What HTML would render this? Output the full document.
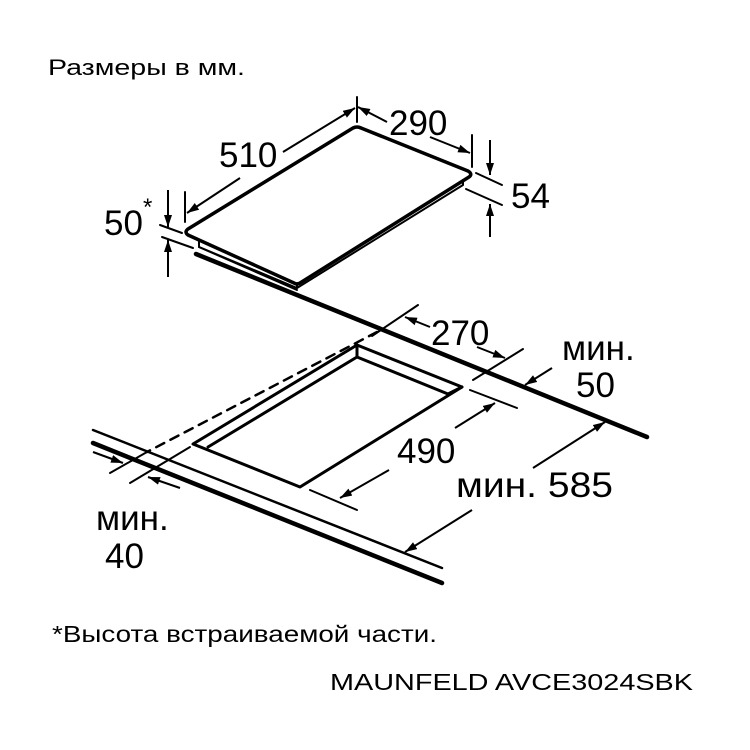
<!DOCTYPE html>
<html><head><meta charset="utf-8"><style>
html,body{margin:0;padding:0;background:#fff;}
svg{display:block;}
text{font-family:"Liberation Sans",sans-serif;fill:#000;}
</style></head><body>
<svg width="750" height="750" viewBox="0 0 750 750" xmlns="http://www.w3.org/2000/svg">
<defs>
<marker id="a" viewBox="0 0 12 8" refX="12" refY="4" markerWidth="12" markerHeight="8" markerUnits="userSpaceOnUse" orient="auto">
<path d="M0,0 L12,4 L0,8 z" fill="#000"/></marker>
</defs>
<g stroke="#000" fill="none" stroke-linecap="round" stroke-linejoin="round">
<path d="M188,229 L353,128 Q357,126 361,128 L468,171 Q473,174 469,177 L300,283 Q297,285 294,283 L188,235 Q184,232 188,229 z" stroke-width="3.5"/>
<path d="M199,241 L199,247 L297,288 L297,283" stroke-width="2"/>
<path d="M297,288 L463,185 L463,180" stroke-width="2"/>
<path d="M199,247 L297,290" stroke-width="2"/>
<path d="M196,254 L647,437" stroke-width="4.5"/>
<path d="M93,430 L442,568" stroke-width="2.5"/>
<path d="M93,443 L442,583" stroke-width="4.5"/>
<path d="M357,345 L462,387 L300,487 L193,444 z" stroke-width="3"/>
<path d="M357,345 L357,357 L208,447 M357,357 L448,394 L462,387" stroke-width="3"/>
<path d="M377,332 L147,452" stroke-width="2.5" stroke-dasharray="9,7"/>
<path d="M147,452 L110,473" stroke-width="2"/>
<path d="M190,447 L130,483" stroke-width="2"/>
<path d="M357,97 L357,122 M472,135 L472,167 M185,192 L185,222" stroke-width="2"/>
<path d="M476,173 L502,185 M466,189 L502,205" stroke-width="2"/>
<path d="M160,225 L182,233 M162,237 L193,248" stroke-width="2"/>
<path d="M418,305 L372,336 M523,349 L473,380" stroke-width="2"/>
<path d="M470,390 L517,408 M310,490 L357,510" stroke-width="2"/>
</g>
<g stroke="#000" stroke-width="2" fill="none">
<line x1="283" y1="152" x2="355" y2="108" marker-end="url(#a)"/>
<line x1="240" y1="178" x2="187" y2="213" marker-end="url(#a)"/>
<line x1="387" y1="122" x2="358" y2="107" marker-end="url(#a)"/>
<line x1="430" y1="137" x2="470" y2="153" marker-end="url(#a)"/>
<line x1="490" y1="140" x2="490" y2="175" marker-end="url(#a)"/>
<line x1="490" y1="237" x2="490" y2="204" marker-end="url(#a)"/>
<line x1="168" y1="190" x2="168" y2="227" marker-end="url(#a)"/>
<line x1="168" y1="277" x2="168" y2="240" marker-end="url(#a)"/>
<line x1="430" y1="327" x2="405" y2="317" marker-end="url(#a)"/>
<line x1="477" y1="347" x2="505" y2="358" marker-end="url(#a)"/>
<line x1="552" y1="368" x2="525" y2="385" marker-end="url(#a)"/>
<line x1="455" y1="428" x2="495" y2="403" marker-end="url(#a)"/>
<line x1="389" y1="470" x2="340" y2="498" marker-end="url(#a)"/>
<line x1="533" y1="468" x2="605" y2="422" marker-end="url(#a)"/>
<line x1="472" y1="510" x2="405" y2="552" marker-end="url(#a)"/>
<line x1="93" y1="452" x2="123" y2="463" marker-end="url(#a)"/>
<line x1="180" y1="488" x2="148" y2="477" marker-end="url(#a)"/>
</g>
<text x="48" y="75" font-size="22" textLength="197" lengthAdjust="spacingAndGlyphs">Размеры в мм.</text>
<text x="389" y="135" font-size="35">290</text>
<text x="219" y="167" font-size="35">510</text>
<text x="511" y="208" font-size="35">54</text>
<text x="104" y="235" font-size="35">50</text>
<text x="143" y="215" font-size="24">*</text>
<text x="431" y="345" font-size="35">270</text>
<text x="562" y="360" font-size="35">мин.</text>
<text x="576" y="397" font-size="35">50</text>
<text x="397" y="463" font-size="35">490</text>
<text x="456" y="497" font-size="35" textLength="157" lengthAdjust="spacingAndGlyphs">мин. 585</text>
<text x="96" y="530" font-size="35">мин.</text>
<text x="105" y="568" font-size="35">40</text>
<text x="52" y="642" font-size="23" textLength="385" lengthAdjust="spacingAndGlyphs">*Высота встраиваемой части.</text>
<text x="330" y="690" font-size="23" textLength="363" lengthAdjust="spacingAndGlyphs">MAUNFELD AVCE3024SBK</text>
</svg>
</body></html>
